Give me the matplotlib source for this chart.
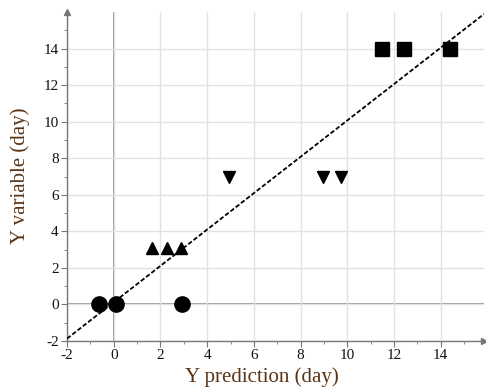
import matplotlib
matplotlib.use("Agg")
import matplotlib.pyplot as plt
import numpy as np

# data
circle_x = [-0.63, 0.09, 2.93]
circle_y = [0, 0, 0]
tri_up_x = [1.62, 2.30, 2.90]
tri_up_y = [3.1, 3.1, 3.1]
tri_down_x = [4.93, 8.94, 9.71]
tri_down_y = [7, 7, 7]
square_x = [11.49, 12.41, 14.38]
square_y = [14, 14, 14]
fit_slope = 0.995
fit_intercept = 0.12
x_ticks = [-2, 0, 2, 4, 6, 8, 10, 12, 14]
y_ticks = [-2, 0, 2, 4, 6, 8, 10, 12, 14]
x_label = "Y prediction (day)"
y_label = "Y variable (day)"

plt.rcParams['font.family'] = ['Liberation Serif', 'DejaVu Serif']
plt.rcParams['axes.unicode_minus'] = False

fig = plt.figure(figsize=(4.86, 3.89), dpi=100)
ax = fig.add_axes([67/486, 48/389, (484-67)/486, (341-12)/389])
xmin, xmax = -2, 15.85
ymin, ymax = -2, 16.0
ax.set_xlim(xmin, xmax)
ax.set_ylim(ymin, ymax)

ax.set_xticks(x_ticks)
ax.set_yticks(y_ticks)
ax.set_xticks(np.arange(-1, 16, 2), minor=True)
ax.set_yticks(np.arange(-1, 16, 2), minor=True)
ax.grid(True, which='major', color='#e2e2e2', lw=1.0, zorder=0)
ax.axvline(0, color='#888888', lw=1.2, zorder=1)
ax.axhline(0, color='#888888', lw=1.2, zorder=1)

for s in ['top', 'right']:
    ax.spines[s].set_visible(False)
for s in ['left', 'bottom']:
    ax.spines[s].set_color('#777777')
    ax.spines[s].set_linewidth(1.0)
ax.tick_params(which='major', length=4, color='#777777', labelsize=11, labelcolor='#111111', pad=2)
ax.tick_params(which='minor', length=2.5, color='#777777')
ax.plot(1, 0, '>', color='#777777', ms=5, transform=ax.transAxes, clip_on=False)
ax.plot(0, 1, '^', color='#777777', ms=5, transform=ax.transAxes, clip_on=False)

lx = np.array([xmin, xmax])
ax.plot(lx, fit_slope * lx + fit_intercept, color='black', lw=1.3, ls=(0, (2.5, 1.2)), zorder=3)

ax.plot(circle_x, circle_y, 'o', color='black', ms=11, zorder=4, clip_on=False)
ax.plot(tri_up_x, tri_up_y, '^', color='black', ms=8.5, zorder=4)
ax.plot(tri_down_x, tri_down_y, 'v', color='black', ms=8.5, zorder=4)
ax.plot(square_x, square_y, 's', color='black', ms=10, zorder=4)

lab_color = '#5a3414'
fig.text(262/486, 1 - 377/389, x_label, ha='center', va='center', fontsize=15, color=lab_color)
fig.text(20/486, 1 - 176/389, y_label, ha='center', va='center', rotation=90, fontsize=15, color=lab_color)

fig.savefig("out.png", dpi=100)
